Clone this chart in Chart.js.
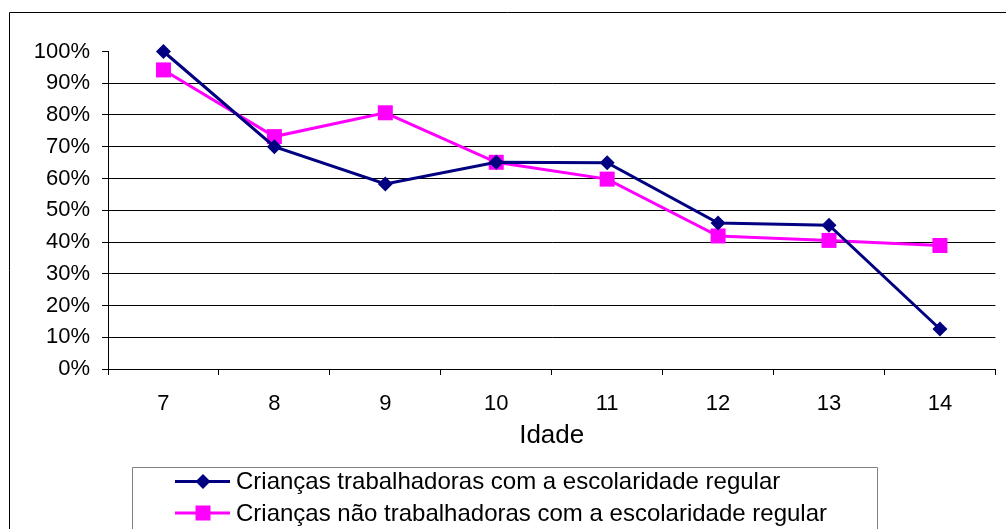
<!DOCTYPE html>
<html>
<head>
<meta charset="utf-8">
<script src="https://cdn.jsdelivr.net/npm/chart.js@4.4.0/dist/chart.umd.min.js"></script>
<style>
  html, body { margin: 0; padding: 0; background: #fff; }
  canvas { display: block; }
</style>
</head>
<body>
<canvas id="grafico" width="1006" height="529"></canvas>
<script>
// Dados (percentagem por idade)
const idades = ['7', '8', '9', '10', '11', '12', '13', '14'];
const trabalhadoras = [100, 70, 58.3, 65.1, 65, 46, 45.3, 12.6];
const naoTrabalhadoras = [94.2, 73.2, 80.7, 65.1, 59.8, 41.9, 40.5, 38.9];
const nomesSeries = [
  'Crianças trabalhadoras com a escolaridade regular',
  'Crianças não trabalhadoras com a escolaridade regular'
];
const tituloX = 'Idade';

const fonte = "'Liberation Sans', Arial, sans-serif";
const corAzul = '#000080';
const corRosa = '#FF00FF';

// Moldura externa e legenda desenhadas à mão
const molduraELegenda = {
  id: 'molduraELegenda',
  afterDraw(chart) {
    const ctx = chart.ctx;
    ctx.save();
    ctx.strokeStyle = '#000';
    ctx.lineWidth = 1;
    ctx.beginPath();
    ctx.moveTo(9.5, 529);
    ctx.lineTo(9.5, 12.5);
    ctx.lineTo(1006, 12.5);
    ctx.stroke();

    // caixa da legenda
    ctx.strokeStyle = '#808080';
    ctx.beginPath();
    ctx.moveTo(132.5, 529);
    ctx.lineTo(132.5, 467.5);
    ctx.lineTo(877.5, 467.5);
    ctx.lineTo(877.5, 529);
    ctx.stroke();

    const linhas = [481.5, 513];
    chart.data.datasets.forEach((ds, i) => {
      const y = linhas[i];
      ctx.strokeStyle = ds.borderColor;
      ctx.lineWidth = 3;
      ctx.beginPath();
      ctx.moveTo(175, y);
      ctx.lineTo(230, y);
      ctx.stroke();
      ctx.fillStyle = ds.backgroundColor;
      Chart.helpers.drawPoint(ctx, {
        pointStyle: ds.pointStyle,
        radius: ds.pointRadius,
        borderWidth: 0,
        rotation: 0
      }, 203, y);
      ctx.fillStyle = '#000';
      ctx.font = '24px ' + fonte;
      ctx.textBaseline = 'middle';
      ctx.textAlign = 'left';
      ctx.fillText(ds.label, 236, y + 1);
    });
    ctx.restore();
  }
};

new Chart(document.getElementById('grafico'), {
  type: 'line',
  data: {
    labels: idades,
    datasets: [
      {
        label: nomesSeries[0],
        data: trabalhadoras,
        borderColor: corAzul,
        backgroundColor: corAzul,
        borderWidth: 3,
        pointStyle: 'rectRot',
        pointRadius: 7.5,
        pointHoverRadius: 7.5,
        pointBorderWidth: 0,
        tension: 0,
        clip: false
      },
      {
        label: nomesSeries[1],
        data: naoTrabalhadoras,
        borderColor: corRosa,
        backgroundColor: corRosa,
        borderWidth: 3,
        pointStyle: 'rect',
        pointRadius: 10.6,
        pointHoverRadius: 10.6,
        pointBorderWidth: 0,
        tension: 0,
        clip: false
      }
    ]
  },
  options: {
    responsive: false,
    animation: false,
    layout: { padding: { top: 51.5, left: 0, right: 6, bottom: 78 } },
    plugins: {
      legend: { display: false },
      tooltip: { enabled: false }
    },
    scales: {
      x: {
        offset: true,
        afterFit: (scale) => { scale.height = 82; },
        grid: {
          offset: true,
          drawOnChartArea: false,
          tickLength: 6,
          color: '#000',
          tickColor: '#000'
        },
        border: { display: true, color: '#000', width: 1 },
        ticks: {
          color: '#000',
          font: { family: fonte, size: 22 },
          padding: 16,
          maxRotation: 0
        },
        title: {
          display: true,
          text: tituloX,
          color: '#000',
          font: { family: fonte, size: 26 },
          padding: 0
        }
      },
      y: {
        min: 0,
        max: 100,
        afterFit: (scale) => { scale.width = 108; },
        grid: {
          color: (c) => (c.tick && c.tick.value === 100 ? 'rgba(0,0,0,0)' : '#000'),
          tickColor: '#000',
          tickLength: 6
        },
        border: { display: true, color: '#000', width: 1 },
        ticks: {
          stepSize: 10,
          color: '#000',
          font: { family: fonte, size: 22 },
          padding: 12,
          callback: (v) => v + '%'
        }
      }
    }
  },
  plugins: [molduraELegenda]
});
</script>
</body>
</html>
